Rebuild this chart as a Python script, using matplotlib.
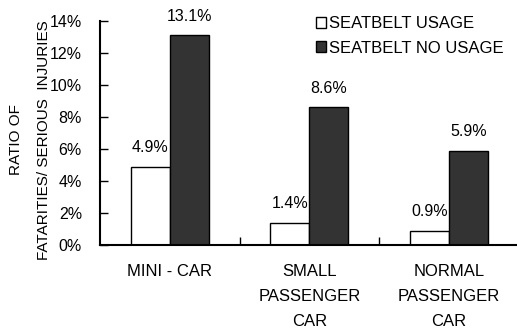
import numpy as np
import matplotlib.pyplot as plt

plt.rcParams["font.family"] = ["Liberation Sans", "DejaVu Sans"]

# Доля погибших/тяжело раненых по типам автомобилей, %
categories = ["MINI - CAR", "SMALL\nPASSENGER\nCAR", "NORMAL\nPASSENGER\nCAR"]
seatbelt_usage = [4.9, 1.4, 0.9]
seatbelt_no_usage = [13.1, 8.6, 5.9]

fig = plt.figure(figsize=(5.17, 3.30), dpi=100)
ax = fig.add_axes([0.1934, 0.2576, 0.81, 0.6788])

x = np.arange(len(categories))
width = 0.28

bars1 = ax.bar(x - width / 2, seatbelt_usage, width, color="white",
               edgecolor="black", linewidth=1.0, label="SEATBELT USAGE")
bars2 = ax.bar(x + width / 2, seatbelt_no_usage, width, color="#333333",
               edgecolor="black", linewidth=1.0, label="SEATBELT NO USAGE")

for bars in (bars1, bars2):
    for b in bars:
        h = b.get_height()
        ax.annotate(f"{h:.1f}%", (b.get_x() + b.get_width() / 2, h),
                    xytext=(0, 8), textcoords="offset points",
                    ha="center", va="bottom", fontsize=11.5)

ax.set_xlim(-0.5, 2.5)
ax.set_ylim(0, 14)
ax.set_yticks(np.arange(0, 15, 2))
ax.set_yticklabels([f"{v}%" for v in range(0, 15, 2)], fontsize=11.5)

# подписи категорий по центру, деления на границах
ax.set_xticks(x)
ax.set_xticklabels(categories, fontsize=12, linespacing=1.8, va="top")
ax.tick_params(axis="x", length=0, pad=14)
ax.set_xticks([0.5, 1.5], minor=True)
ax.tick_params(axis="x", which="minor", direction="in", length=6, width=1)
ax.tick_params(axis="y", direction="in", length=6, width=1, pad=13)

for side in ("top", "right"):
    ax.spines[side].set_visible(False)
for side in ("left", "bottom"):
    ax.spines[side].set_linewidth(1.5)

ax.set_ylabel("RATIO OF\nFATARITIES/ SERIOUS  INJURIES", fontsize=11,
              linespacing=2.3)
ax.yaxis.set_label_coords(-0.116, 0.47)

ax.legend(loc="upper left", bbox_to_anchor=(0.5, 1.05), frameon=False,
          fontsize=12, handlelength=0.6, handleheight=0.6, handletextpad=0.15,
          labelspacing=0.55, borderaxespad=0)

fig.savefig("out.png", dpi=100)
